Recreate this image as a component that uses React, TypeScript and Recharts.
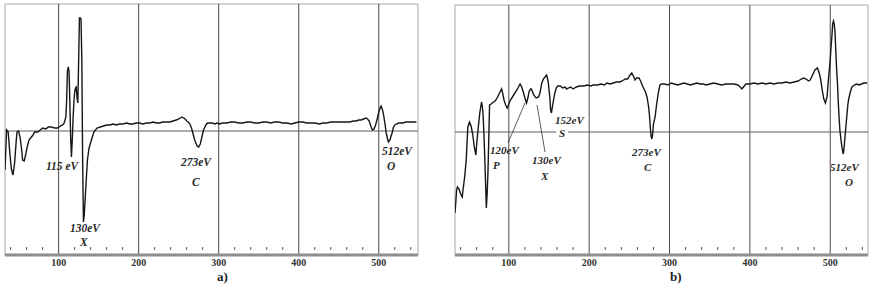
import { Line, LineChart, ReferenceArea, ReferenceLine, XAxis, YAxis } from "recharts";

// panel a) spectrum, energy in eV and signal (arbitrary units, 0 = base line)
const energyA = [
  33, 35, 37, 39, 41, 43, 45, 47, 48, 50,
  52, 54, 55, 57, 59, 61, 63, 66, 68, 70,
  74, 77, 80, 84, 87, 91, 95, 99, 102, 105,
  107, 109, 110, 111, 112, 113, 114, 115, 116, 117,
  118, 119, 120, 121, 122, 123, 124, 125, 126, 127,
  128, 129, 130, 131, 132, 133, 134, 136, 138, 141,
  144, 148, 152, 156, 160, 164, 168, 172, 176, 180,
  185, 189, 193, 197, 201, 205, 210, 214, 218, 222,
  226, 230, 235, 239, 243, 247, 250, 252, 254, 256,
  258, 260, 262, 264, 266, 268, 270, 272, 273, 275,
  277, 279, 281, 284, 286, 288, 292, 295, 298, 301,
  305, 310, 315, 320, 325, 330, 335, 340, 345, 350,
  355, 360, 365, 370, 375, 380, 385, 391, 395, 400,
  405, 410, 415, 420, 426, 430, 435, 440, 445, 450,
  455, 460, 464, 468, 472, 475, 478, 481, 484, 486,
  488, 490, 492, 494, 496, 498, 500, 502, 503, 505,
  506, 508, 509, 511, 512, 514, 515, 517, 518, 520,
  522, 525, 528, 530, 534, 538, 542, 547,
];
const signalA = [
  -39, 1, -1, -22, -38, -44, -32, -10, -1, 0,
  -7, -20, -29, -30, -23, -15, -9, -6, -4, -1,
  -1, 1, 3, 2, 4, 4, 3, 3, 5, 6,
  8, 14, 30, 60, 64, 60, 30, -6, -26, -10,
  11, 28, 39, 43, 44, 33, 28, 70, 113, 113,
  112, 70, -29, -91, -84, -70, -56, -29, -17, -9,
  -1, 3, 4, 5, 6, 6, 7, 6, 7, 7,
  8, 7, 7, 8, 8, 7, 8, 8, 9, 8,
  8, 9, 9, 9, 10, 11, 12, 13, 14, 13,
  12, 10, 9, 7, 3, -3, -9, -13, -15, -16,
  -13, -6, 1, 6, 8, 8, 8, 7, 8, 7,
  8, 8, 9, 9, 8, 8, 9, 9, 8, 8,
  9, 9, 8, 9, 9, 8, 8, 7, 8, 9,
  9, 8, 8, 8, 7, 8, 8, 9, 9, 9,
  9, 9, 9, 10, 10, 11, 11, 12, 13, 12,
  10, 5, 1, 2, 6, 12, 19, 24, 25, 20,
  16, 6, -1, -8, -11, -9, -6, -1, 3, 6,
  7, 8, 8, 8, 9, 9, 9, 9,
];

// panel b) spectrum
const energyB = [
  33, 34, 35, 36, 38, 40, 42, 43, 45, 47,
  48, 49, 51, 53, 55, 57, 59, 60, 62, 64,
  66, 67, 68, 69, 70, 71, 72, 73, 74, 75,
  76, 78, 81, 83, 86, 89, 91, 92, 94, 96,
  98, 100, 102, 106, 110, 112, 114, 116, 118, 120,
  122, 124, 125, 127, 128, 130, 131, 134, 137, 139,
  141, 143, 145, 147, 148, 149, 151, 152, 153, 155,
  157, 159, 161, 164, 167, 170, 172, 174, 177, 180,
  184, 188, 193, 198, 202, 205, 210, 215, 219, 222,
  226, 230, 234, 238, 241, 245, 248, 250, 253, 255,
  257, 259, 262, 264, 267, 270, 272, 274, 275, 276,
  277, 278, 279, 280, 282, 284, 286, 288, 290, 294,
  298, 302, 306, 310, 314, 318, 322, 326, 330, 334,
  338, 342, 346, 350, 355, 360, 365, 370, 375, 380,
  385, 388, 390, 392, 395, 400, 405, 410, 415, 420,
  425, 430, 435, 440, 445, 450, 455, 460, 464, 467,
  470, 473, 475, 478, 481, 484, 486, 488, 490, 492,
  494, 496, 498, 500, 501, 502, 503, 504, 505, 506,
  507, 508, 509, 510, 511, 512, 514, 516, 517, 518,
  520, 522, 523, 525, 527, 530, 533, 536, 539, 542,
  546,
];
const signalB = [
  -81, -70, -58, -55, -57, -62, -65, -58, -45, -28,
  -10, 5, 10, 6, -2, -15, -23, -12, 5, 20,
  30, 26, 17, -2, -25, -50, -76, -62, -41, -8,
  27, 28, 30, 31, 35, 40, 43, 40, 32, 27,
  24, 28, 32, 37, 42, 45, 48, 45, 40, 34,
  29, 35, 40, 43, 43, 39, 37, 34, 35, 40,
  49, 53, 55, 57, 54, 50, 35, 22, 19, 29,
  38, 44, 46, 46, 44, 45, 43, 44, 45, 43,
  45, 46, 46, 47, 46, 47, 47, 48, 47, 49,
  48, 49, 50, 50, 51, 53, 53, 56, 59, 56,
  52, 54, 54, 51, 45, 40, 35, 25, 17, 5,
  -4, -7, -2, 8, 15, 28, 39, 47, 48, 48,
  47, 49, 48, 47, 48, 49, 48, 47, 48, 49,
  48, 48, 47, 48, 49, 48, 47, 48, 48, 48,
  47, 45, 43, 45, 48, 48, 49, 48, 49, 48,
  49, 48, 49, 49, 50, 49, 50, 51, 53, 54,
  53, 51, 52, 57, 62, 64, 60, 53, 42, 33,
  29, 35, 55, 72, 85, 95, 108, 111, 108, 99,
  80, 62, 49, 30, 15, 2, -12, -22, -18, -8,
  10, 28, 33, 40, 45, 47, 48, 47, 48, 49,
  49,
];

const minorTicks = [
  40, 60, 80, 100, 120, 140, 160, 180, 200, 220, 240, 260, 280, 300,
  320, 340, 360, 380, 400, 420, 440, 460, 480, 500, 520, 540,
];
const gridLines = [100, 200, 300, 400, 500];

const dataA = energyA.map((ev, i) => ({ ev, s: signalA[i] }));
const dataB = energyB.map((ev, i) => ({ ev, s: signalB[i] }));

const SERIF = "'Liberation Serif', 'DejaVu Serif', serif";

function BottomTick({ x, y, payload }: any) {
  const v = payload.value;
  if (v % 100 === 0) {
    return (
      <text x={x} y={y + 11} textAnchor="middle" fontFamily={SERIF} fontWeight="bold" fontSize={10} fill="#333">
        {v}
      </text>
    );
  }
  return <line x1={x} x2={x} y1={y - 8} y2={y - 5} stroke="#555" />;
}

function TopTick({ x, y, payload }: any) {
  if (payload.value % 100 === 0) return <g />;
  return <line x1={x} x2={x} y1={y + 1} y2={y + 4} stroke="#555" />;
}

function Spectrum({
  data,
  width,
  margin,
  xMax,
  yMin,
  yMax,
}: {
  data: { ev: number; s: number }[];
  width: number;
  margin: { top: number; right: number; bottom: number; left: number };
  xMax: number;
  yMin: number;
  yMax: number;
}) {
  return (
    <LineChart width={width} height={289} data={data} margin={margin}>
      <XAxis
        dataKey="ev"
        type="number"
        domain={[33, xMax]}
        allowDataOverflow
        ticks={minorTicks}
        interval={0}
        height={20}
        tickSize={0}
        tickMargin={0}
        tickLine={false}
        axisLine={{ stroke: "#8e8e8e", strokeWidth: 3 }}
        tick={(p: any) => <BottomTick {...p} />}
      />
      <XAxis
        xAxisId="top"
        orientation="top"
        dataKey="ev"
        type="number"
        domain={[33, xMax]}
        allowDataOverflow
        ticks={minorTicks}
        interval={0}
        height={0}
        tickSize={0}
        tickMargin={0}
        tickLine={false}
        axisLine={false}
        tick={(p: any) => <TopTick {...p} />}
      />
      <YAxis hide type="number" domain={[yMin, yMax]} allowDataOverflow />
      <ReferenceArea x1={33} x2={xMax} y1={yMin} y2={yMax} fill="none" stroke="#a8a8a8" />
      {gridLines.map((g) => (
        <ReferenceLine key={g} x={g} stroke="#4a4a4a" />
      ))}
      <ReferenceLine y={0} stroke="#5a5a5a" />
      <Line
        type="linear"
        dataKey="s"
        stroke="#161616"
        strokeWidth={1.4}
        dot={false}
        isAnimationActive={false}
      />
    </LineChart>
  );
}

const noteStyle = { fontFamily: SERIF, fontStyle: "italic" as const, fontWeight: "bold" as const, fill: "#2a2a2a" };

export default function App() {
  return (
    <div style={{ position: "absolute", left: 0, top: 0, width: 872, height: 289, background: "#fff", overflow: "hidden" }}>
      <div style={{ position: "absolute", left: 0, top: 0 }}>
        <Spectrum data={dataA} width={440} margin={{ top: 4, right: 22, bottom: 14, left: 5 }} xMax={549} yMin={-124} yMax={127} />
      </div>
      <div style={{ position: "absolute", left: 440, top: 0 }}>
        <Spectrum data={dataB} width={432} margin={{ top: 5, right: 4, bottom: 14, left: 15 }} xMax={547} yMin={-123} yMax={127} />
      </div>
      <svg width={872} height={289} style={{ position: "absolute", left: 0, top: 0, pointerEvents: "none" }}>
        <g {...noteStyle} fontSize={11.5}>
          <text x={46} y={170}>115 eV</text>
          <text x={70} y={232}>130eV</text>
          <text x={80} y={246}>X</text>
          <text x={181} y={166}>273eV</text>
          <text x={192} y={186}>C</text>
          <text x={382} y={155}>512eV</text>
          <text x={387} y={170}>O</text>
        </g>
        <rect x={556} y={127} width={12} height={10} fill="#fff" />
        <g {...noteStyle} fontSize={11}>
          <text x={555} y={124}>152eV</text>
          <text x={559} y={137}>S</text>
          <text x={490} y={154}>120eV</text>
          <text x={493} y={169}>P</text>
          <text x={532} y={164}>130eV</text>
          <text x={541} y={180}>X</text>
          <text x={632} y={156}>273eV</text>
          <text x={644} y={171}>C</text>
          <text x={830} y={171}>512eV</text>
          <text x={845} y={186}>O</text>
        </g>
        <line x1={508} y1={143} x2={525} y2={103} stroke="#333" strokeWidth={0.8} />
        <line x1={545} y1={152} x2={537} y2={105} stroke="#333" strokeWidth={0.8} />
        <text x={217} y={281} fontFamily={SERIF} fontWeight="bold" fontSize={13} fill="#222">a)</text>
        <text x={670} y={281} fontFamily={SERIF} fontWeight="bold" fontSize={13} fill="#222">b)</text>
      </svg>
    </div>
  );
}
